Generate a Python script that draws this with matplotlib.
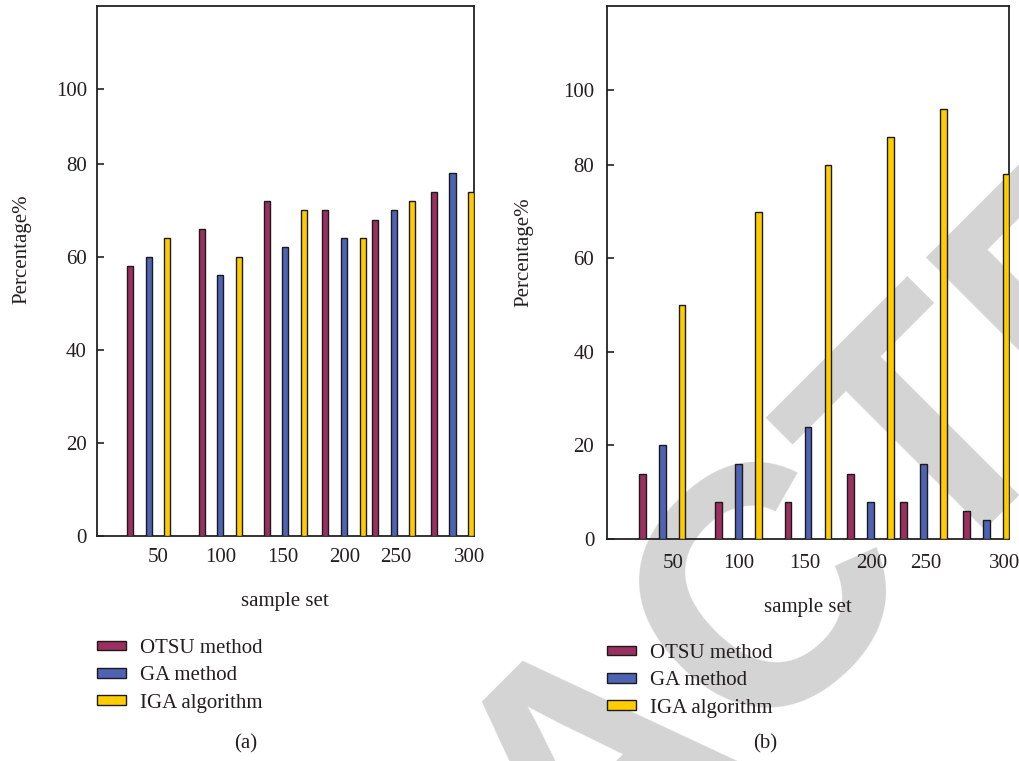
import matplotlib.pyplot as plt

# data
samples = ['50', '100', '150', '200', '250', '300']
methods = ['OTSU method', 'GA method', 'IGA algorithm']

otsu_a = [58, 66, 72, 70, 68, 74]
ga_a = [60, 56, 62, 64, 70, 78]
iga_a = [64, 60, 70, 64, 72, 74]

otsu_b = [14, 8, 8, 14, 8, 6]
ga_b = [20, 16, 24, 8, 16, 4]
iga_b = [50, 70, 80, 86, 92, 78]

y_labels = ['0', '20', '40', '60', '80', '100']

# layout (the original groups are not evenly spaced)
group_x = [0.089, 0.278, 0.4505, 0.606, 0.7377, 0.8937]
label_x = [0.164, 0.328, 0.492, 0.658, 0.793, 0.987]
y_pos = [0, 20, 40, 60, 80, 96]
step = 0.0493
bar_w = 0.016
colors = ['#9b2f60', '#4f63b5', '#ffcc00']
txt = '#231f20'

plt.rcParams['font.family'] = ['Liberation Serif', 'DejaVu Serif']
plt.rcParams['font.size'] = 15

fig = plt.figure(figsize=(10.19, 7.61), dpi=100)
W, H = 1019, 761


def px_axes(x0, y0, x1, y1):
    return fig.add_axes([x0 / W, 1 - y1 / H, (x1 - x0) / W, (y1 - y0) / H])


ax_a = px_axes(96.7, 5.7, 474, 535.7)
ax_b = px_axes(606.7, 5.7, 1009.3, 539)


def draw(ax, series, ypad, xpad, ylab_xy, xlab_xy):
    ax.set_facecolor('none')
    for k, vals in enumerate(series):
        xs = [g + k * step for g in group_x]
        ax.bar(xs, vals, width=bar_w, color=colors[k], edgecolor='#1a1a1a',
               linewidth=1.0, zorder=3)
    ax.set_xlim(0, 1)
    ax.set_ylim(0, 114)
    ax.set_xticks(label_x)
    ax.set_xticklabels(samples)
    ax.set_yticks(y_pos)
    ax.set_yticklabels(y_labels)
    ax.tick_params(axis='x', length=0, pad=xpad, labelcolor=txt)
    ax.tick_params(axis='y', direction='in', length=5, width=1.2, pad=ypad,
                   labelcolor=txt, color='#222222')
    for s in ax.spines.values():
        s.set_linewidth(1.3)
        s.set_color('#222222')
    ax.set_ylabel('Percentage%', color=txt, va='center')
    ax.yaxis.set_label_coords(*ylab_xy)
    ax.set_xlabel('sample set', color=txt, va='center')
    ax.xaxis.set_label_coords(*xlab_xy)


draw(ax_a, [otsu_a, ga_a, iga_a], 7, 9, (-0.198, 0.541), (0.5, -0.125))
draw(ax_b, [otsu_b, ga_b, iga_b], 9, 10.5, (-0.205, 0.538), (0.5, -0.128))

handles = [plt.Rectangle((0, 0), 1, 1, facecolor=c, edgecolor='#1a1a1a', linewidth=1.0)
           for c in colors]
for x0, ytop in [(97, 639), (607, 644)]:
    fig.legend(handles, methods, loc='upper left',
               bbox_to_anchor=(x0 / W, 1 - ytop / H), frameon=False,
               borderpad=0, borderaxespad=0, handlelength=1.4, handleheight=0.33,
               handletextpad=0.67, labelspacing=0.4, labelcolor=txt)

fig.text(245.7 / W, 1 - 744 / H, '(a)', ha='center', va='center', color=txt)
fig.text(765 / W, 1 - 743.5 / H, '(b)', ha='center', va='center', color=txt)

# watermark stamp behind the plots
fig.text(600 / W, 1 - 768 / H, 'RETRACTED', rotation=45, rotation_mode='anchor',
         ha='center', va='center', fontsize=245, color='#d4d4d4',
         family='Liberation Sans', weight='bold', zorder=-1)

fig.savefig('out.png', dpi=100)
